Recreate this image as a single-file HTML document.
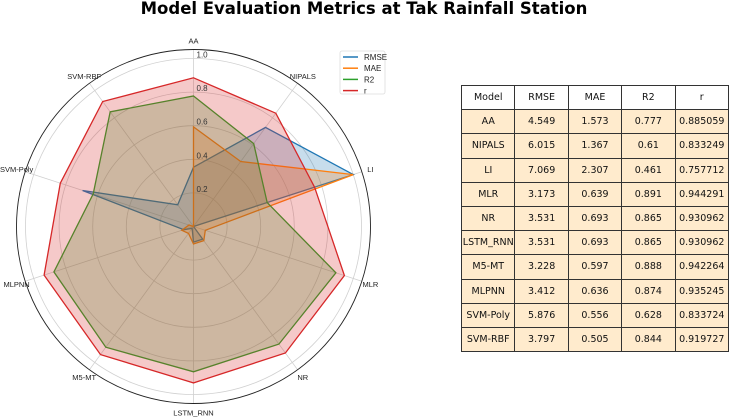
<!DOCTYPE html>
<html><head><meta charset="utf-8"><style>
body{margin:0;background:#fff;font-family:"Liberation Sans","DejaVu Sans",sans-serif;}
#wrap{position:relative;width:729px;height:419px;overflow:hidden;}
table{position:absolute;left:461px;top:85px;border-collapse:collapse;font-family:"DejaVu Sans","Liberation Sans",sans-serif;font-size:9.5px;color:#111;}
td{border:1px solid #333;width:52.5px;height:23.2px;padding:0;text-align:center;background:#ffebcd;}
tr.h td{background:#fff;}
</style></head><body><div id="wrap">
<svg id="svg" width="729" height="419" style="position:absolute;left:0;top:0">
<text x="364" y="14" text-anchor="middle" font-size="16.5" font-weight="bold" font-family="DejaVu Sans, Liberation Sans, sans-serif" fill="#000">Model Evaluation Metrics at Tak Rainfall Station</text>
</svg>
<table><tbody id="tb"></tbody></table>
</div>
<script>
const categories=["AA","NIPALS","LI","MLR","NR","LSTM_RNN","M5-MT","MLPNN","SVM-Poly","SVM-RBF"];
const rmseNorm=[0.353,0.729,1.0,0.0,0.093,0.093,0.014,0.061,0.694,0.160];
const maeNorm=[0.593,0.478,1.0,0.074,0.104,0.104,0.051,0.073,0.028,0.0];
const r2Vals=[0.777,0.61,0.461,0.891,0.865,0.865,0.888,0.874,0.628,0.844];
const rVals=[0.885059,0.833249,0.757712,0.944291,0.930962,0.930962,0.942264,0.935245,0.833724,0.919727];
const rmseRaw=["4.549","6.015","7.069","3.173","3.531","3.531","3.228","3.412","5.876","3.797"];
const maeRaw=["1.573","1.367","2.307","0.639","0.693","0.693","0.597","0.636","0.556","0.505"];
const r2Raw=["0.777","0.61","0.461","0.891","0.865","0.865","0.888","0.874","0.628","0.844"];
const rRaw=["0.885059","0.833249","0.757712","0.944291","0.930962","0.930962","0.942264","0.935245","0.833724","0.919727"];
const tickLabels=["0.2","0.4","0.6","0.8","1.0"];
const tickVals=[0.2,0.4,0.6,0.8,1.0];
const seriesNames=["RMSE","MAE","R2","r"];
const NS="http://www.w3.org/2000/svg";
const svg=document.getElementById('svg');
const cx=193.5,cy=226.5,S=168,OUT=177;
function ang(i){return i*2*Math.PI/categories.length;}
function px(i,v){return cx+Math.sin(ang(i))*v*S;}
function py(i,v){return cy-Math.cos(ang(i))*v*S;}
function mk(t,a){const e=document.createElementNS(NS,t);for(const k in a)e.setAttribute(k,a[k]);svg.appendChild(e);return e;}
tickVals.forEach((t,k)=>{
 const c=mk('circle',{cx:cx,cy:cy,r:t*S,fill:'none',stroke:'#d0d0d0','stroke-width':0.8});
 
 
});
categories.forEach((c,i)=>{
 const l=mk('line',{x1:cx,y1:cy,x2:cx+Math.sin(ang(i))*OUT,y2:cy-Math.cos(ang(i))*OUT,stroke:'#d0d0d0','stroke-width':0.8});
 
 
});
const oc=mk('circle',{cx:cx,cy:cy,r:OUT,fill:'none',stroke:'#222','stroke-width':0.9});


const series=[[rmseNorm,'#1f77b4'],[maeNorm,'#ff7f0e'],[r2Vals,'#2ca02c'],[rVals,'#d62728']];
series.forEach(([vals,col],s)=>{
 const pts=vals.map((v,i)=>px(i,v).toFixed(1)+','+py(i,v).toFixed(1)).join(' ');
 const p=mk('polygon',{points:pts,fill:col,'fill-opacity':0.25,stroke:col,'stroke-width':1.3});
 
 
});
tickVals.forEach((t,k)=>{
 const tx=mk('text',{x:cx+3,y:cy-t*S-1,'font-size':8,fill:'#333'});
 tx.textContent=tickLabels[k];
 
 
});
categories.forEach((c,i)=>{
 const R=186,a=ang(i);
 const x=cx+Math.sin(a)*R,y=cy-Math.cos(a)*R+3;
 const tx=mk('text',{x:x,y:y,'font-size':7.5,fill:'#222','text-anchor':'middle'});
 tx.textContent=c;
 
 
});
const lb=mk('rect',{x:340,y:51,width:45,height:43,fill:'#fff',stroke:'#ddd','stroke-width':0.8,rx:2});


series.forEach(([v,col],s)=>{
 const y=57+s*11.2;
 const l=mk('line',{x1:343,y1:y,x2:358,y2:y,stroke:col,'stroke-width':1.5});
 
 
 const t=mk('text',{x:364,y:y+3,'font-size':8,fill:'#222'});
 t.textContent=seriesNames[s];
 
 
});
const tb=document.getElementById('tb');
function row(cells,cls){const tr=document.createElement('tr');if(cls)tr.className=cls;
 
 
 cells.forEach(c=>{const td=document.createElement('td');td.textContent=c;tr.appendChild(td);});tb.appendChild(tr);}
row(["Model"].concat(seriesNames),'h');
categories.forEach((c,i)=>row([c,rmseRaw[i],maeRaw[i],r2Raw[i],rRaw[i]]));
</script></body></html>
